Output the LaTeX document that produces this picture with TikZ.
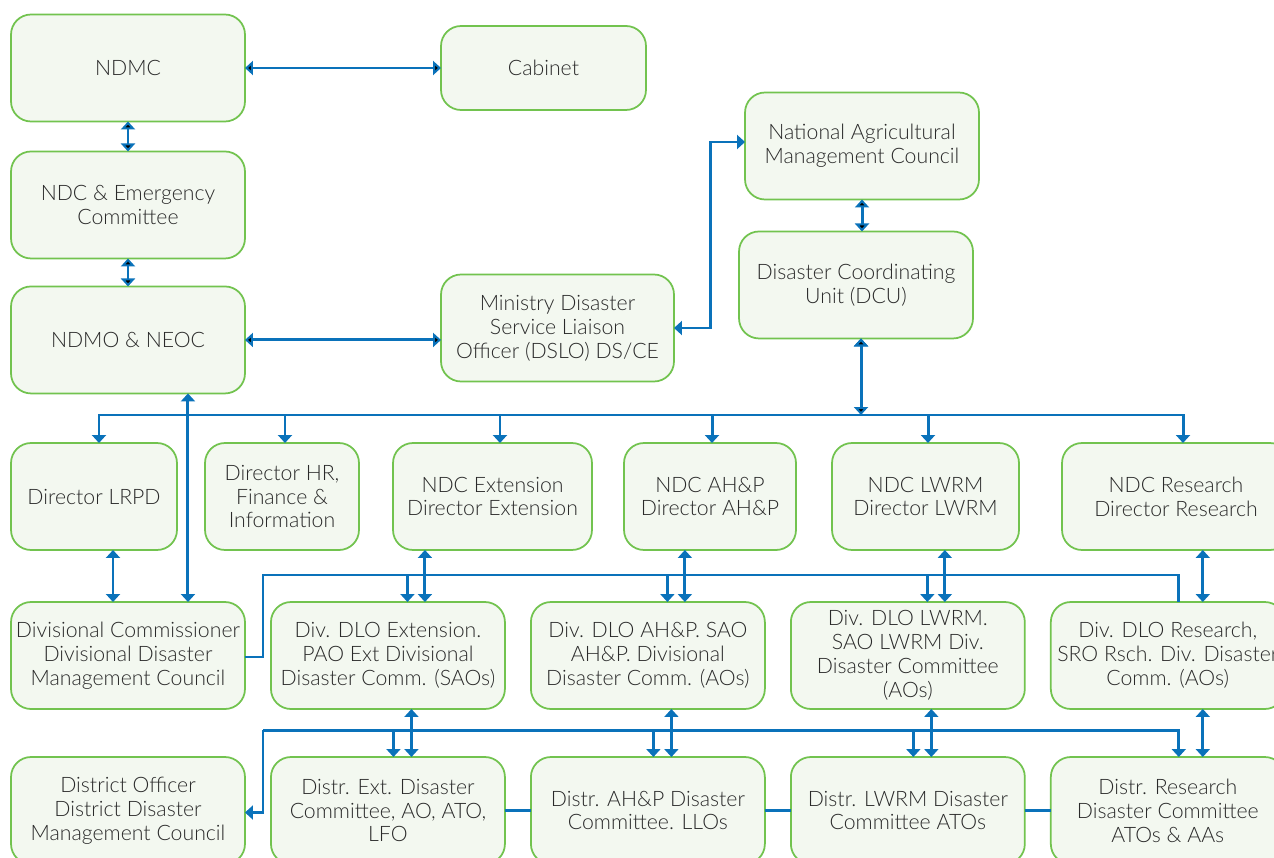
\documentclass[tikz,border=0pt]{standalone}
\usepackage{fontspec}
\setmainfont{Lato}[UprightFont={* Light}]
\usepackage{xcolor}
\usetikzlibrary{positioning, arrows.meta}
\definecolor{boxgreen}{HTML}{72C34F}
\definecolor{boxfill}{HTML}{F3F8F0}
\definecolor{linkblue}{HTML}{0A72BA}
\definecolor{txtgray}{HTML}{2A2A2A}

\begin{document}
\begin{tikzpicture}[x=0.02cm, y=-0.02cm,
    unit/.style={draw=boxgreen, fill=boxfill, line width=1pt,
        rounded corners=0.4cm, align=center, text=txtgray, inner sep=0pt,
        outer sep=0pt, minimum width=4.68cm, minimum height=2.14cm,
        font=\fontsize{12.1}{13.6}\selectfont},
    link/.style={draw=linkblue, line width=1.7pt},
    >={Triangle[length=0.16cm,width=0.28cm]}]
\useasboundingbox (0,0) rectangle (1274,858);

    % Add the national level
    \node[unit] (ndmc) at (128,68) {NDMC};
    \node[unit,
        minimum width=4.1cm,
        minimum height=1.68cm
        ] (cab) at (543.5,68) {Cabinet};
    \node[unit,
        below=0.6cm of ndmc
        ] (ndc) {NDC \& Emergency\\Committee};
    \node[unit,
        below=0.56cm of ndc
        ] (ndmo) {NDMO \& NEOC};
    \node[unit,
        minimum width=4.66cm
        ] (dslo) at (557.5,328) {Ministry Disaster\\Service Liaison\\Officer (DSLO) DS/CE};
    \node[unit] (namc) at (862,146) {National Agricultural\\Management Council};
    \node[unit,
        below=0.64cm of namc,
        xshift=-0.12cm
        ] (dcu) {Disaster Coordinating\\Unit (DCU)};

    % Add the directors
    \node[unit, minimum width=3.32cm] (lrpd) at (94,496.5) {Director LRPD};
    \node[unit, minimum width=3.08cm] (hr) at (282,496.5) {Director HR,\\Finance \&\\Information};
    \node[unit, minimum width=3.98cm] (ext) at (492.5,496.5) {NDC Extension\\Director Extension};
    \node[unit, minimum width=3.44cm] (ahp) at (710,496.5) {NDC AH\&P\\Director AH\&P};
    \node[unit, minimum width=3.74cm] (lwrm) at (925.5,496.5) {NDC LWRM\\Director LWRM};
    \node[unit, minimum width=4.56cm] (rsch) at (1176,496.5) {NDC Research\\Director Research};

    % Add the divisions
    \node[unit] (dvc) at (128,655.5) {Divisional Commissioner\\Divisional Disaster\\Management Council};
    \node[unit,
        right=0.52cm of dvc
        ] (dvext) {Div. DLO Extension.\\PAO Ext Divisional\\Disaster Comm. (SAOs)};
    \node[unit,
        right=0.52cm of dvext
        ] (dvahp) {Div. DLO AH\&P. SAO\\AH\&P. Divisional\\Disaster Comm. (AOs)};
    \node[unit,
        right=0.52cm of dvahp
        ] (dvlwrm) {Div. DLO LWRM.\\SAO LWRM Div.\\Disaster Committee\\(AOs)};
    \node[unit,
        right=0.52cm of dvlwrm
        ] (dvrsch) {Div. DLO Research,\\SRO Rsch. Div. Disaster\\Comm. (AOs)};

    % Add the districts
    \node[unit] (dto) at (128,810.5) {District Officer\\District Disaster\\Management Council};
    \node[unit,
        right=0.52cm of dto
        ] (dtext) {Distr. Ext. Disaster\\Committee, AO, ATO,\\LFO};
    \node[unit,
        right=0.52cm of dtext
        ] (dtahp) {Distr. AH\&P Disaster\\Committee. LLOs};
    \node[unit,
        right=0.52cm of dtahp
        ] (dtlwrm) {Distr. LWRM Disaster\\Committee ATOs};
    \node[unit,
        right=0.52cm of dtlwrm
        ] (dtrsch) {Distr. Research\\Disaster Committee\\ATOs \& AAs};

    \coordinate (bus1) at (861,415);
    \coordinate (bus2) at (263,575);
    \coordinate (bus3) at (263,730);

    \draw[link, <->]
        (ndmc) edge[] (cab)
        (ndmc) edge[] (ndc)
        (ndc) edge[] (ndmo)
        (ndmo.east) edge[] (ndmo.east -| dslo.west)
        (namc.south) edge[] (namc.south |- dcu.north)
        (dcu.south -| bus1) edge[] (bus1)
        ;
    \draw[link, <->] ([xshift=1.2cm]ndmo.south) -- ([xshift=1.2cm]dvc.north);
    \draw[link, <->] ([xshift=-0.3cm]dvc.north |- lrpd.south) -- ([xshift=-0.3cm]dvc.north);
    \draw[link, <->] (dslo.east) -- ++(0.74cm,0) |- ([yshift=0.08cm]namc.west);

    % directors below the DCU
    \foreach \n/\dx in {lrpd/0.1, hr/0.06, ext/0.15, ahp/0.04, lwrm/0.05, rsch/0.14}
        \draw[link, ->] (bus1) -| ([xshift=\dx cm]\n.north);

    % divisions and districts
    \foreach \a/\b/\c in {ext/dvext/dtext, ahp/dvahp/dtahp, lwrm/dvlwrm/dtlwrm}{
        \draw[link, <->] ([xshift=0.74cm]\b.north) -- ([xshift=0.74cm]\b.north |- \a.south);
        \draw[link, <->] ([xshift=0.47cm]\b.south) -- ([xshift=0.47cm]\b.south |- \c.north);
        \draw[link, ->] (bus2) -| ([xshift=0.39cm]\b.north);
        \draw[link, ->] (bus3) -| ([xshift=0.11cm]\c.north);
    }
    \draw[link, <->] ([xshift=0.7cm]dvrsch.north) -- ([xshift=0.7cm]dvrsch.north |- rsch.south);
    \draw[link, <->] ([xshift=0.7cm]dvrsch.south) -- ([xshift=0.7cm]dvrsch.south |- dtrsch.north);
    \draw[link] (dvc.east |- 0,657) -| (bus2) -| ([xshift=0.22cm]dvrsch.north);
    \draw[link, ->] (bus3) -| ([xshift=0.22cm]dtrsch.north);
    \draw[link, ->] (bus3) |- ([yshift=-0.04cm]dto.east);

    \draw[link]
        (dtext) edge[] (dtahp)
        (dtahp) edge[] (dtlwrm)
        (dtlwrm) edge[] (dtrsch)
        ;
\end{tikzpicture}
\end{document}
